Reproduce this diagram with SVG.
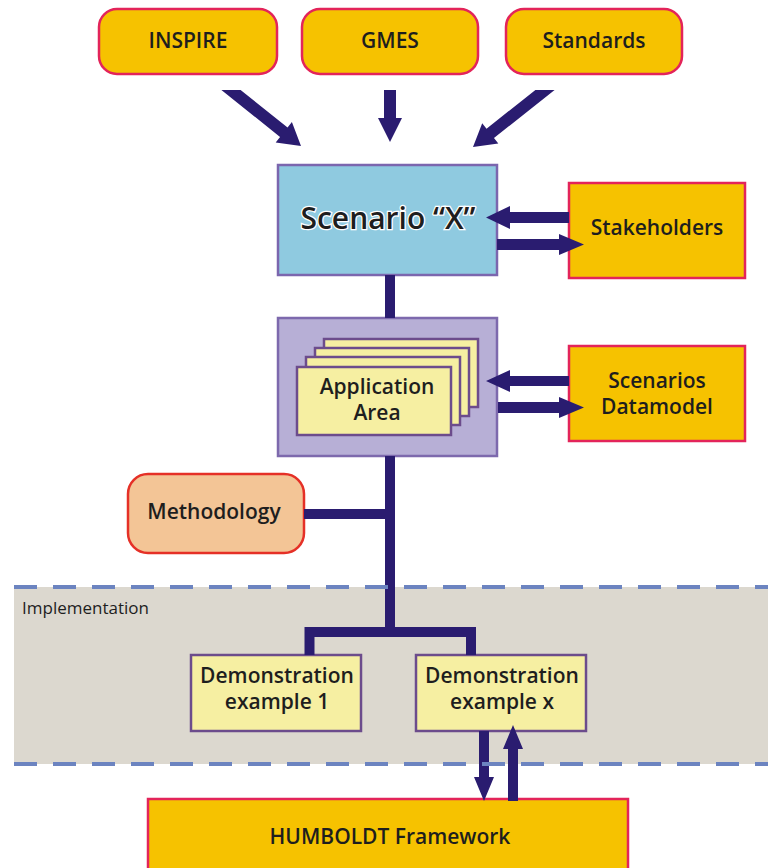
<svg xmlns="http://www.w3.org/2000/svg" width="768" height="868" viewBox="0 0 768 868">
<style>
.t{font-family:"Open Sans","Liberation Sans",sans-serif;font-weight:600;font-size:21px;fill:#1e1e1e;text-anchor:middle}
.gold{fill:#f6c200;stroke:#e3245a;stroke-width:2.5}
.card{fill:#f6efa2;stroke:#6c4c8c;stroke-width:2.5}
.arr{fill:#2a1c70}
.con{fill:none;stroke:#2a1c70;stroke-width:10}
.dash{stroke:#6c84c0;stroke-width:4;stroke-dasharray:23 16}
</style>
<rect x="14" y="587" width="754" height="177" fill="#dcd8cf"/>
<g id="inspire"><rect class="gold" x="99" y="9" width="178" height="65" rx="18"/><text class="t" x="188" y="48">INSPIRE</text></g>
<g id="gmes"><rect class="gold" x="302" y="9" width="176" height="65" rx="18"/><text class="t" x="390" y="48">GMES</text></g>
<g id="standards"><rect class="gold" x="506" y="9" width="176" height="65" rx="18"/><text class="t" x="594" y="48">Standards</text></g>
<g id="scenario"><rect x="278" y="165" width="219" height="110" fill="#8fcae0" stroke="#7b66ae" stroke-width="2.5"/><text class="t" x="388" y="229" style="font-size:30px;stroke:#fff;stroke-width:2.5;paint-order:stroke">Scenario “X”</text></g>
<g id="stakeholders"><rect class="gold" x="569" y="183" width="176" height="95"/><text class="t" x="657" y="235">Stakeholders</text></g>
<g id="appArea"><rect x="278" y="318" width="219" height="138" fill="#b7afd6" stroke="#7d69ad" stroke-width="2.5"/>
<rect class="card" x="324" y="339" width="154" height="68"/>
<rect class="card" x="315" y="348" width="154" height="68"/>
<rect class="card" x="306" y="357" width="154" height="68"/>
<rect class="card" x="297" y="367" width="154" height="68"/>
<text class="t" x="377" y="394">Application</text><text class="t" x="377" y="420">Area</text></g>
<g id="datamodel"><rect class="gold" x="569" y="346" width="176" height="95"/><text class="t" x="657" y="388">Scenarios</text><text class="t" x="657" y="414">Datamodel</text></g>
<g id="methodology"><rect x="128" y="474" width="176" height="79" rx="20" fill="#f3c596" stroke="#e53027" stroke-width="2.5"/><text class="t" x="214" y="519">Methodology</text></g>
<g id="demo1"><rect class="card" x="191" y="655" width="170" height="76"/><text class="t" x="277" y="683">Demonstration</text><text class="t" x="277" y="709">example 1</text></g>
<g id="demox"><rect class="card" x="416" y="655" width="170" height="76"/><text class="t" x="502" y="683">Demonstration</text><text class="t" x="502" y="709">example x</text></g>
<g id="humboldt"><rect class="gold" x="148" y="799" width="480" height="80"/><text class="t" x="390" y="844">HUMBOLDT Framework</text></g>
<text x="22" y="614" style="font-family:'Open Sans','Liberation Sans',sans-serif;font-size:17px;fill:#1e1e1e">Implementation</text>
<g id="connectors">
<polygon class="arr" points="221.4,90 240.6,90 287.55,127.56 291.9,122.1 301,146 275.7,142.4 280.05,136.94"/>
<polygon class="arr" points="384,90 396,90 396,118 402,118 390,142 378,118 384,118"/>
<polygon class="arr" points="535.4,90 554.6,90 493.98,138.04 498.3,143.5 473,147 482.2,123.2 486.52,128.64"/>
<polygon class="arr" points="569,212 510,212 510,206 486,217.5 510,229 510,223 569,223"/>
<polygon class="arr" points="497,239 559,239 559,234 584,244.5 559,255 559,250 497,250"/>
<polygon class="arr" points="569,376 510,376 510,370 486,381 510,392 510,386 569,386"/>
<polygon class="arr" points="498,402 559,402 559,397 584,407.5 559,418 559,413 498,413"/>
<path class="con" d="M390 275V318M390 456V632M304 514H390M309.5 655V632H471V655"/>
<polygon class="arr" points="479,731 489,731 489,777 494,777 484,801 474,777 479,777"/>
<polygon class="arr" points="508,801 518,801 518,749 523,749 513,725 503,749 508,749"/>
</g>
<line class="dash" x1="14" y1="587" x2="768" y2="587"/>
<line class="dash" x1="14" y1="764" x2="768" y2="764"/>
</svg>
